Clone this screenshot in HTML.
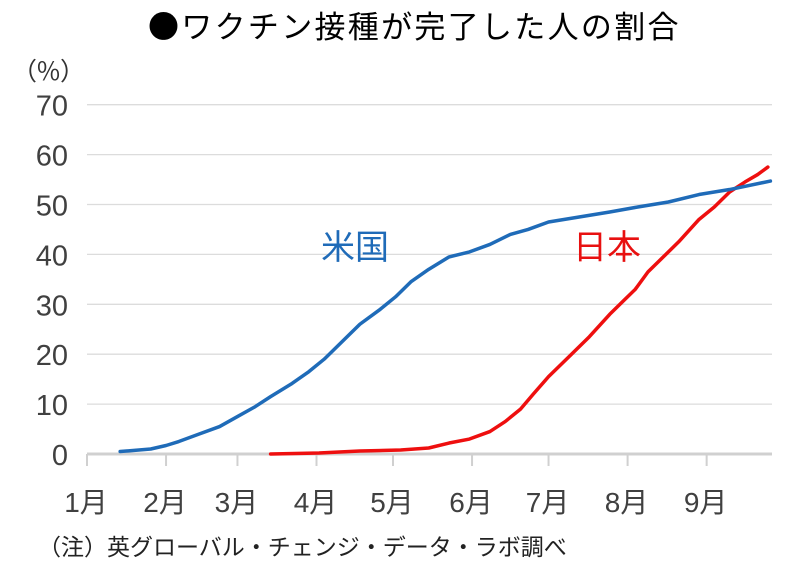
<!DOCTYPE html>
<html><head><meta charset="utf-8"><style>
html,body{margin:0;padding:0;background:#fff;width:800px;height:579px;overflow:hidden}
svg text{font-family:"Liberation Sans","Noto Sans CJK JP",sans-serif}
</style></head><body>
<svg id="chart" width="800" height="579" viewBox="0 0 800 579">
<text x="148" y="38" font-size="31" fill="#000" letter-spacing="2.3" style="font-family:'Noto Sans CJK JP',sans-serif">●ワクチン接種が完了した人の割合</text>
<text x="12" y="80" font-size="25" fill="#333" style="font-family:'Noto Sans CJK JP',sans-serif">（%）</text>
<g id="grid"></g>
<g id="series"></g>
<text x="321" y="259" font-size="34" fill="#1f6bb8" style="font-family:'Noto Sans CJK JP',sans-serif">米国</text>
<text x="573" y="259" font-size="34" fill="#e81010" style="font-family:'Noto Sans CJK JP',sans-serif">日本</text>
<text x="38" y="555" font-size="23" fill="#222" style="font-family:'Noto Sans CJK JP',sans-serif">（注）英グローバル・チェンジ・データ・ラボ調べ</text>
</svg>
<script>
const yTicks=[0,10,20,30,40,50,60,70];
const monthLabels=["1月","2月","3月","4月","5月","6月","7月","8月","9月"];
const monthStartDays=[0,31,59,90,120,151,181,212,243];
const usDays=[13,25,31,36,44,52,59,66,72,80,87,93,101,107,115,121,127,134,142,150,158,166,173,181,193,205,216,228,240,252,268];
const usValues=[0.5,1,1.7,2.5,4,5.5,7.5,9.5,11.5,14,16.5,19,23,26,29,31.5,34.5,37,39.5,40.5,42,44,45,46.5,47.5,48.5,49.5,50.5,52,53,54.7];
const jpDays=[72,91,107,123,134,142,150,158,164,170,175,181,189,197,205,211,215,220,226,232,240,246,252,258,263,267];
const jpValues=[0,0.2,0.6,0.8,1.2,2.2,3,4.5,6.5,9,12,15.5,19.5,23.5,28,31,33,36.5,39.5,42.5,47,49.5,52.5,54.5,56,57.5];
const NS="http://www.w3.org/2000/svg";
const x=d=>87+d*2.55;
const y=v=>454-v*4.99;
function mk(tag,attrs,parent){const e=document.createElementNS(NS,tag);for(const k in attrs)e.setAttribute(k,attrs[k]);parent.appendChild(e);return e;}
const grid=document.getElementById('grid');
yTicks.forEach(v=>{
  const l=mk('line',{x1:87,x2:772,y1:y(v),y2:y(v),stroke:v===0?'#d0d0d0':'#dcdcdc','stroke-width':v===0?3:1.3},grid);
  
  
  const t=mk('text',{x:68,y:y(v)+11,'font-size':29,fill:'#404040','text-anchor':'end'},grid);
  t.textContent=v;
  
  
});
monthStartDays.forEach((d,i)=>{
  const tk=mk('line',{x1:x(d),x2:x(d),y1:454,y2:466,stroke:'#d0d0d0','stroke-width':2},grid);
  
  
  const t=mk('text',{x:x(d)-1,y:512,'font-size':28,fill:'#404040','text-anchor':'middle'},grid);
  t.textContent=monthLabels[i];
  
  
});
const s=document.getElementById('series');
function line(days,vals,color,name){
  const p=mk('polyline',{points:days.map((d,i)=>x(d)+','+y(vals[i])).join(' '),fill:'none',stroke:color,'stroke-width':3.5,'stroke-linejoin':'round','stroke-linecap':'round'},s);
  
  
}
line(jpDays,jpValues,'#ee0f0f','japan-line');
line(usDays,usValues,'#1f6bb8','us-line');
</script>
</body></html>
